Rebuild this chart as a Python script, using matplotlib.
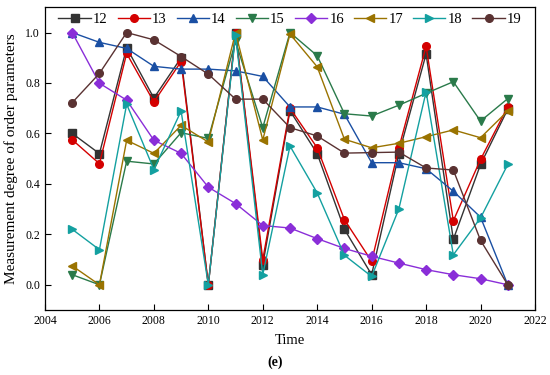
import matplotlib
matplotlib.use("Agg")
from matplotlib import pyplot as plt

plt.rcParams['font.family'] = ['Liberation Serif', 'DejaVu Serif']

years = list(range(2005, 2022))

s12 = [0.60, 0.52, 0.94, 0.74, 0.90, 0.00, 1.00, 0.08, 0.69, 0.52, 0.22, 0.04, 0.52, 0.915, 0.18, 0.477, 0.696]
s13 = [0.575, 0.48, 0.917, 0.725, 0.885, 0.00, 1.00, 0.10, 0.70, 0.543, 0.258, 0.093, 0.543, 0.945, 0.254, 0.497, 0.706]
s14 = [1.00, 0.961, 0.937, 0.866, 0.855, 0.855, 0.848, 0.826, 0.705, 0.705, 0.676, 0.484, 0.484, 0.46, 0.371, 0.268, 0.00]
s15 = [0.04, 0.00, 0.49, 0.479, 0.603, 0.58, 0.965, 0.623, 1.00, 0.908, 0.678, 0.669, 0.712, 0.759, 0.805, 0.649, 0.738]
s16 = [1.00, 0.799, 0.732, 0.573, 0.521, 0.387, 0.322, 0.235, 0.225, 0.183, 0.144, 0.113, 0.086, 0.060, 0.040, 0.024, 0.00]
s17 = [0.075, 0.00, 0.573, 0.521, 0.632, 0.566, 1.00, 0.574, 0.994, 0.864, 0.577, 0.543, 0.561, 0.587, 0.614, 0.583, 0.689]
s18 = [0.22, 0.139, 0.716, 0.457, 0.689, 0.00, 0.99, 0.04, 0.55, 0.364, 0.117, 0.033, 0.301, 0.765, 0.119, 0.265, 0.477]
s19 = [0.722, 0.838, 1.00, 0.971, 0.905, 0.835, 0.736, 0.736, 0.623, 0.59, 0.522, 0.524, 0.526, 0.463, 0.455, 0.176, 0.00]

labels = ['12', '13', '14', '15', '16', '17', '18', '19']
series = [s12, s13, s14, s15, s16, s17, s18, s19]
colors = ['#333333', '#d40000', '#1a4fa3', '#2a7a4a', '#8a2ed8', '#9a7300', '#13a0a0', '#5a3232']
markers = ['s', 'o', '^', 'v', 'D', '<', '>', 'o']

fig = plt.figure(figsize=(5.5, 3.75), dpi=100)
ax = fig.add_axes([0.0818, 0.1733, 0.8909, 0.8072])

for ys, lab, c, m in zip(series, labels, colors, markers):
    ms = 5 if m == 'D' else 5.5
    ax.plot(years, ys, color=c, marker=m, markersize=ms, linewidth=1.0, label=lab)

ax.set_xlim(2004, 2022)
ax.set_ylim(-0.1, 1.1)
ax.set_xticks(range(2004, 2023, 2))
ax.set_yticks([0.0, 0.2, 0.4, 0.6, 0.8, 1.0])
ax.set_yticklabels(['0.0', '0.2', '0.4', '0.6', '0.8', '1.0'])
ax.tick_params(direction='in', length=4, width=0.8, labelsize=8.5)
for sp in ax.spines.values():
    sp.set_linewidth(0.9)

ax.set_xlabel('Time', fontsize=10.5, labelpad=5)
ax.set_ylabel('Measurement degree of order parameters', fontsize=11, labelpad=5)

ax.legend(ncol=8, frameon=False, loc='upper center', bbox_to_anchor=(0.5, 1.01),
          fontsize=10.5, handlelength=2.2, handletextpad=0.15, columnspacing=0.7,
          numpoints=1, borderaxespad=0.2)

fig.text(0.5, 0.035, '(e)', ha='center', va='center', fontsize=10, fontweight='bold')

fig.savefig('out.png', dpi=100)
